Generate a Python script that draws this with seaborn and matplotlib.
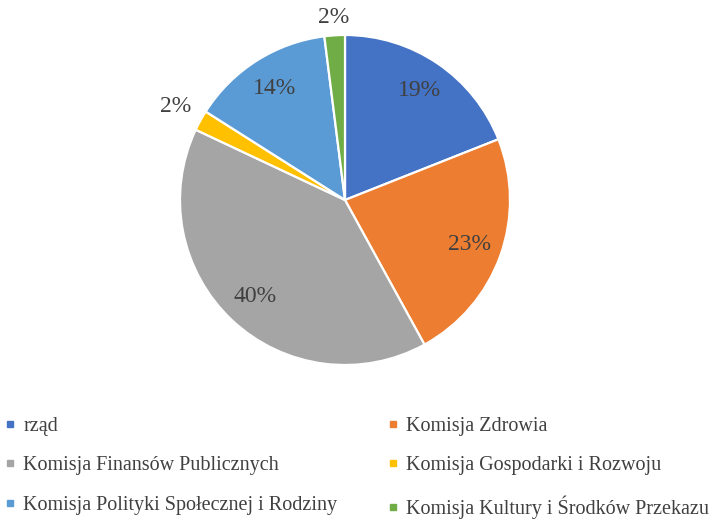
import numpy as np
import matplotlib
matplotlib.use("Agg")
import matplotlib.pyplot as plt
from matplotlib.lines import Line2D
import seaborn as sns

categories = ["rząd", "Komisja Zdrowia", "Komisja Finansów Publicznych",
              "Komisja Gospodarki i Rozwoju", "Komisja Polityki Społecznej i Rodziny",
              "Komisja Kultury i Środków Przekazu"]
values = [19, 23, 40, 2, 14, 2]
colors_hex = ["#4472C4", "#ED7D31", "#A5A5A5", "#FFC000", "#5B9BD5", "#70AD47"]

sns.set_theme(style="white")
plt.rcParams['font.family'] = ['Liberation Serif', 'DejaVu Serif']
palette = sns.color_palette(colors_hex)

fig = plt.figure(figsize=(7.22, 5.22), dpi=100)
ax = fig.add_axes([180/722, (522-365)/522, 330/722, 330/522])

wedges, texts, autotexts = ax.pie(
    values, colors=palette, startangle=90, counterclock=False,
    autopct=lambda p: f"{p:.0f}%", pctdistance=0.8,
    wedgeprops=dict(edgecolor="white", linewidth=1.6),
    textprops=dict(color="#404040", fontsize=17))
ax.set_xlim(-1, 1)
ax.set_ylim(-1, 1)
ax.set_aspect("equal")

# push small-slice labels outside (best-fit style)
for w, t, v in zip(wedges, autotexts, values):
    if v <= 3:
        ang = np.deg2rad((w.theta1 + w.theta2) / 2)
        dist = 1.17 if np.cos(ang) < -0.2 else 1.11
        t.set_position((dist * np.cos(ang), dist * np.sin(ang)))

def handle(c):
    return Line2D([], [], linestyle="none", marker="s", markersize=4.5,
                  markerfacecolor=c, markeredgecolor=c)

left_idx = [0, 2, 4]
right_idx = [1, 3, 5]
for idx, x in ((left_idx, 5/722), (right_idx, 388/722)):
    fig.legend([handle(palette[i]) for i in idx], [categories[i] for i in idx],
               loc="upper left", bbox_to_anchor=(x, 1 - 417/522),
               frameon=False, fontsize=14.5, labelspacing=1.0,
               handlelength=0.5, handletextpad=0.4, borderaxespad=0,
               borderpad=0, labelcolor="#404040")

fig.savefig("out.png", dpi=100)
